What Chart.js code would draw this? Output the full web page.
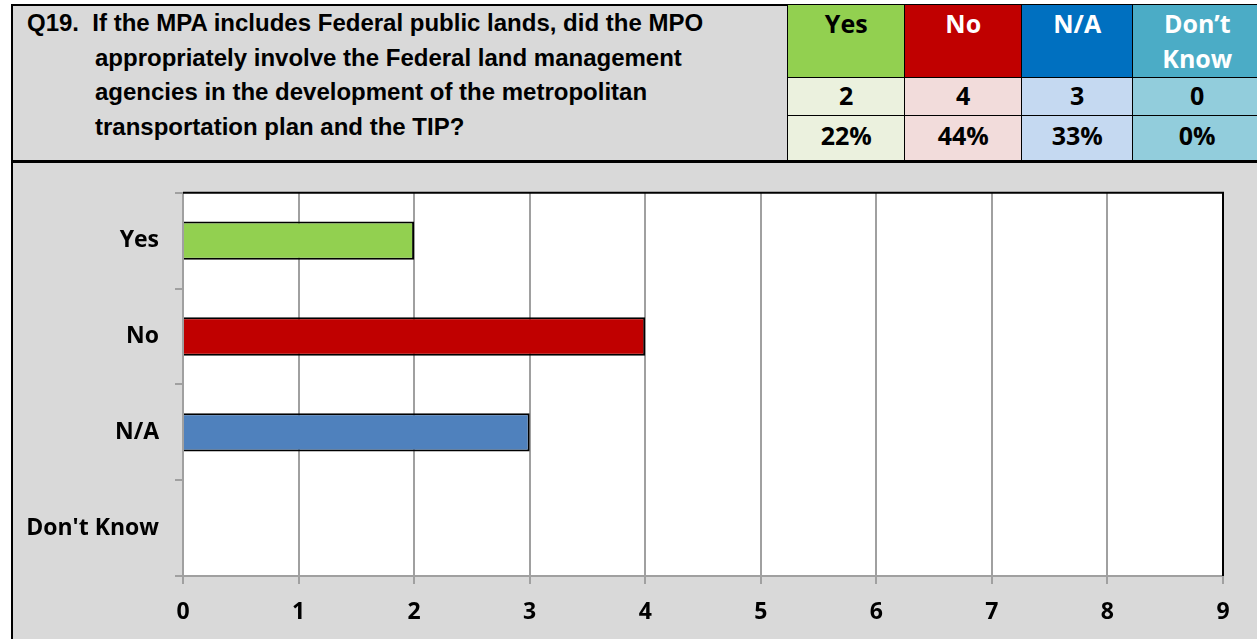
<!DOCTYPE html>
<html>
<head>
<meta charset="utf-8">
<script src="https://cdn.jsdelivr.net/npm/chart.js@4"></script>
<style>
  html, body { margin: 0; padding: 0; background: #ffffff; width: 1257px; height: 639px; overflow: hidden; }
  #question {
    position: absolute; left: 11px; top: 4px; width: 1260px; height: 154px;
    background: #d9d9d9; border: 2px solid #000; box-sizing: content-box;
  }
  #qtext {
    position: absolute; left: 14px; top: 0px;
    font-family: "Liberation Sans", Arial, sans-serif; font-weight: bold; font-size: 24px;
    line-height: 34.7px; color: #000; white-space: nowrap;
  }
  #qtext .line { display: block; }
  #qtext .indent { padding-left: 68px; }
  .cell {
    position: absolute; box-sizing: border-box; border: 1.5px solid #000;
    font-family: "Open Sans", sans-serif; font-weight: bold; font-size: 25px;
    text-align: center; color: #000; line-height: 35px;
  }
  #chartBox {
    position: absolute; left: 11px; top: 160px; width: 1250px; height: 480px;
    background: #d9d9d9; border-left: 2px solid #000; border-top: 3px solid #000;
  }
  #chartWrap { position: absolute; left: 0; top: 0; width: 1244px; height: 476px; }
</style>
</head>
<body>
<div id="question">
  <div id="qtext">
    <span class="line">Q19.&nbsp; If the MPA includes Federal public lands, did the MPO</span>
    <span class="line indent">appropriately involve the Federal land management</span>
    <span class="line indent">agencies in the development of the metropolitan</span>
    <span class="line indent">transportation plan and the TIP?</span>
  </div>
</div>
<div id="table"></div>
<div id="chartBox"><div id="chartWrap"><canvas id="c"></canvas></div></div>
<script>
// Survey responses
const categories = ["Yes", "No", "N/A", "Don't Know"];
const tableHeaders = ["Yes", "No", "N/A", "Don\u2019t Know"];
const counts = [2, 4, 3, 0];
const percents = ["22%", "44%", "33%", "0%"];
const xTicks = [0, 1, 2, 3, 4, 5, 6, 7, 8, 9];

const barColors = ["#92d050", "#c00000", "#4f81bd", "#4bacc6"];
const headFill = ["#92d050", "#c00000", "#0070c0", "#4bacc6"];
const headText = ["#000000", "#ffffff", "#ffffff", "#ffffff"];
const bodyFill = ["#ebf1de", "#f2dcdb", "#c5d9f1", "#92cddc"];

// summary table in the header
const colX = [788, 905, 1022, 1133, 1262];
const rowY = [5, 78, 116, 161];
const table = document.getElementById("table");
function addCell(col, row, text, bg, fg) {
  const d = document.createElement("div");
  d.className = "cell";
  d.style.left = (colX[col] - 1) + "px";
  d.style.top = (rowY[row] - 1) + "px";
  d.style.width = (colX[col + 1] - colX[col] + 1.5) + "px";
  d.style.height = (rowY[row + 1] - rowY[row] + 1.5) + "px";
  d.style.background = bg;
  d.style.color = fg;
  if (row === 0) { d.style.paddingTop = "1px"; }
  else { d.style.paddingTop = row === 1 ? "0px" : "2px"; }
  d.innerHTML = text.replace(" ", "<br>");
  table.appendChild(d);
}
for (let i = 0; i < 4; i++) {
  addCell(i, 0, tableHeaders[i], headFill[i], headText[i]);
  addCell(i, 1, String(counts[i]), bodyFill[i], "#000");
  addCell(i, 2, percents[i], bodyFill[i], "#000");
}

// plot background and the dark top/right frame of the plot area
const plotFrame = {
  id: "plotFrame",
  beforeDraw(chart) {
    const { ctx, chartArea: a } = chart;
    ctx.save();
    ctx.fillStyle = "#ffffff";
    ctx.fillRect(a.left, a.top, a.right - a.left, a.bottom - a.top);
    ctx.restore();
  },
  afterDraw(chart) {
    const { ctx, chartArea: a } = chart;
    ctx.save();
    ctx.strokeStyle = "#000000";
    ctx.lineWidth = 2;
    ctx.beginPath();
    ctx.moveTo(a.left, a.top);
    ctx.lineTo(a.right, a.top);
    ctx.lineTo(a.right, a.bottom);
    ctx.stroke();
    ctx.restore();
  }
};

new Chart(document.getElementById("c"), {
  type: "bar",
  data: {
    labels: categories,
    datasets: [{
      data: counts,
      backgroundColor: barColors,
      borderColor: "#000000",
      borderWidth: 2,
      barPercentage: 0.4,
      categoryPercentage: 1.0
    }]
  },
  options: {
    indexAxis: "y",
    responsive: true,
    maintainAspectRatio: false,
    animation: false,
    layout: { padding: { top: 29, right: 34, left: 0, bottom: 0 } },
    plugins: { legend: { display: false }, tooltip: { enabled: false } },
    scales: {
      x: {
        min: 0, max: 9,
        afterBuildTicks(scale) { scale.ticks = xTicks.map(v => ({ value: v })); },
        afterFit(scale) { scale.height = 63; },
        grid: { color: "#a0a0a0", lineWidth: 2, tickLength: 8, drawTicks: true },
        border: { color: "#a0a0a0", width: 2 },
        ticks: {
          color: "#000", padding: 15,
          font: { family: "'Open Sans', sans-serif", weight: "bold", size: 23 }
        }
      },
      y: {
        afterFit(scale) { scale.width = 170; },
        grid: { drawOnChartArea: false, color: "#a0a0a0", lineWidth: 2, tickLength: 8, offset: true },
        border: { color: "#a0a0a0", width: 2 },
        ticks: {
          color: "#000", padding: 16,
          font: { family: "'Open Sans', sans-serif", weight: "bold", size: 23 }
        }
      }
    }
  },
  plugins: [plotFrame]
});
</script>
</body>
</html>
